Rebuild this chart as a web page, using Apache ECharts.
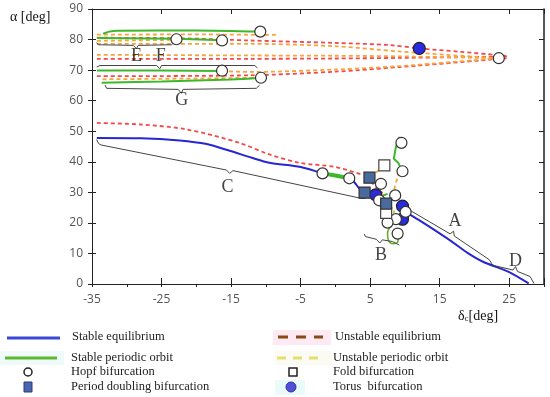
<!DOCTYPE html>
<html>
<head>
<meta charset="utf-8">
<script src="https://cdn.jsdelivr.net/npm/echarts@6/dist/echarts.min.js"></script>
<style>html,body{margin:0;padding:0;background:#fff}#c{width:550px;height:397px}</style>
</head>
<body>
<div id="c"></div>
<script>
// ---------- data ----------
const stableEqUpper = [[-34.3,47.8],[-28,47.7],[-22.4,47.0],[-18.5,45.8],[-15.2,43.6],[-12,41.3],[-9.5,39.7],[-5,38.3],[-1.85,36.2]];
const stableEqMid = [[2.0,34.6],[2.7,33.4],[3.3,31.6],[3.9,30.2],[4.2,29.9],[5.8,29.2]];
const stableEqLower = [[10.1,23.6],[13,19.5],[16.8,13.8],[19,10.2],[21.3,7.2],[25,3.9],[27.8,0.2]];

const unstableEqLower = [[-34.3,52.7],[-28,52.2],[-21.4,50.6],[-13.8,46.2],[-9.5,42.4],[-5,39.6],[0,38.3],[3.9,35.7]];
const unstableEqCluster = [[4.4,35.2],[5.5,32.5],[6.8,29.7]];
const unstableEqTop1 = [[-34.3,80.6],[-22,80.4],[-12.3,79.7],[0,78.9],[7.75,78.2],[12.06,77.1],[18,76.0],[24.8,74.6]];
const unstableEqTop2 = [[-34.3,73.7],[-12.3,73.7],[0,73.8],[9.2,74.0],[24.8,74.4]];
const unstableEqTop3 = [[-34.3,68.0],[-12.3,68.3],[0,69.5],[9.2,71.0],[24.8,73.9]];

const stablePoA = [[-33.4,81.9],[-32.5,82.6],[-31.4,82.9],[-20,83.0],[-10.8,82.6]];
const stablePoB = [[-34.3,80.5],[-22.85,80.3],[-16.3,79.8]];
const stablePoC = [[-34.3,69.9],[-25,69.9],[-16.3,69.7]];
const stablePoD = [[-33.6,65.9],[-25,66.3],[-15,66.9],[-10.7,67.5]];
const stablePoE = [[-1.85,36.2],[0,35.5],[2.0,34.6]];
const stablePoF = [[9.5,46.2],[9.2,48.1],[8.7,44.8],[8.4,41.0],[9.0,39.8],[9.65,36.9]];
const stablePoG = [[6.55,28.7],[7.5,29.5]];
const stablePoH = [[8.0,19.2],[7.5,16.5],[7.6,14.5],[8.3,13.2],[9.0,14.0],[8.95,16.5]];

const unstablePoTop0 = [[-34.3,81.6],[-20,81.7],[-8.5,81.5]];
const unstablePoTop1 = [[-34.3,79.6],[-22.85,79.9]];
const unstablePoTop2 = [[-34.3,78.6],[-12.3,78.6],[0,77.8],[9.2,76.1],[16,75.0],[23.5,73.9]];
const unstablePoTop3 = [[-34.3,75.0],[-12.3,74.8],[0,74.7],[9.2,74.5],[23.5,73.9]];
const unstablePoTop4 = [[-16.3,69.7],[-12.3,69.4],[0,70.2],[9.2,71.3],[23.5,73.9]];
const unstablePoTop5 = [[-33.5,67.0],[-22,67.2],[-10.7,67.5]];
const unstablePoCl1 = [[9.3,36.5],[8.9,34.5],[8.5,31.0],[8.6,29.0]];
const unstablePoCl2 = [[7.04,38.8],[6.0,36.8],[4.9,34.8]];
const unstablePoCl3 = [[8.5,24.1],[8.2,21.9]];

const hopfPoints = [[-10.8,82.6],[-22.85,80.1],[-16.3,79.7],[-16.3,69.8],[-10.7,67.5],[23.5,73.9],[-1.85,36.2],[2.0,34.6],[9.5,46.2],[9.65,36.9],[6.55,32.8],[6.3,27.4],[8.6,29.0],[10.1,23.6],[8.7,21.2],[7.5,20.1],[8.95,16.5]];
const foldPoints = [[7.04,38.8],[7.3,23.3]];
const pdPoints = [[4.9,34.8],[4.2,29.9],[7.3,26.3]];
const torusPoints = [[12.06,77.1],[5.8,29.2],[9.65,25.5],[9.65,21.2]];

const braceA = [[10.15,25.2],[10.77,24.05],[16.5,16.4],[17.0,17.3],[17.1,15.7],[22.1,8.0],[22.5,6.7]];
const braceB = [[4.17,16.36],[4.31,15.54],[5.89,14.63],[6.39,13.42],[6.75,14.46],[8.19,13.9],[9.19,12.76]];
const braceC = [[-34.33,47.3],[-34.07,46.0],[-33.7,45.5],[-15.67,37.3],[-15.2,36.2],[-14.73,37.1],[3.69,28.04],[4.31,27.98]];
const braceD = [[22.35,6.7],[22.8,6.05],[25.55,4.58],[25.9,5.7],[26.2,4.1],[28.0,2.45],[28.56,0.16]];
const braceE = [[-34.33,78.96],[-34.1,78.3],[-29.07,78.1],[-28.6,77.0],[-28.36,78.1],[-23.57,78.3],[-23.1,79.2]];
const braceF = [[-34.33,71.0],[-33.85,71.5],[-25.73,71.5],[-25.24,70.45],[-25.0,71.5],[-11.6,71.5],[-11.2,70.7]];
const braceG = [[-33.13,65.1],[-32.9,64.04],[-22.62,63.7],[-22.14,62.4],[-21.9,63.7],[-11.37,64.04],[-10.9,65.1]];

const regionNames = ['A','B','C','D','E','F','G'];
const regionLabelPos = [[17.2,20.6],[6.56,9.5],[-15.5,31.8],[25.9,7.3],[-28.6,74.4],[-25.1,74.4],[-22.1,60.2]];

const legendNames = ['Stable equilibrium','Unstable equilibrium','Stable periodic orbit','Unstable periodic orbit','Hopf bifurcation','Fold bifurcation','Period doubling bifurcation','Torus  bifurcation'];

// ---------- styles ----------
const BLUE = '#2626d2', RED = '#f4484a', GREEN = '#3cb82a', ORANGE = '#f6a43c';
function ln(data, color, width, type, smooth, z) {
  return {type:'line', data:data, symbol:'none', showSymbol:false, silent:true, animation:false,
    smooth: smooth || false, z: z || 2, lineStyle:{color:color, width:width, type:type || 'solid'}};
}
function pts(data, symbol, size, fill, border, z) {
  return {type:'scatter', data:data, symbol:symbol, symbolSize:size, silent:true, animation:false, z:z,
    itemStyle:{color:fill, borderColor:border, borderWidth:1.2, opacity:1}};
}
const dashR = [4,3], dashO = [4,3];

const series = [
  ln(unstableEqTop1, RED, 1.8, dashR, 0.3, 2),
  ln(unstableEqTop2, RED, 1.8, dashR, 0.3, 2),
  ln(unstableEqTop3, RED, 1.8, dashR, 0.3, 2),
  ln(unstablePoTop0, ORANGE, 1.8, dashO, false, 3),
  ln(unstablePoTop1, ORANGE, 1.8, dashO, false, 3),
  ln(unstablePoTop2, ORANGE, 1.8, dashO, 0.3, 3),
  ln(unstablePoTop3, ORANGE, 1.8, dashO, 0.3, 3),
  ln(unstablePoTop4, ORANGE, 1.8, dashO, 0.3, 3),
  ln(unstablePoTop5, ORANGE, 1.8, dashO, false, 3),
  ln(unstableEqLower, RED, 1.8, dashR, 0.3, 2),
  ln(unstableEqCluster, RED, 1.8, dashR, false, 2),
  ln(unstablePoCl1, ORANGE, 1.8, dashO, 0.3, 3),
  ln(unstablePoCl2, ORANGE, 1.8, dashO, false, 3),
  ln(unstablePoCl3, '#c8c84a', 1.8, [3,2], false, 3),
  ln(stableEqUpper, BLUE, 2, 'solid', 0.3, 4),
  ln(stableEqMid, BLUE, 2, 'solid', 0.3, 4),
  ln(stableEqLower, BLUE, 2, 'solid', 0.2, 4),
  ln(stablePoA, GREEN, 2, 'solid', 0.3, 4),
  ln(stablePoB, GREEN, 2, 'solid', false, 4),
  ln(stablePoC, GREEN, 2, 'solid', false, 4),
  ln(stablePoD, GREEN, 2, 'solid', 0.3, 4),
  ln(stablePoE, GREEN, 4, 'solid', false, 4),
  ln(stablePoF, GREEN, 2, 'solid', false, 4),
  ln(stablePoG, GREEN, 2, 'solid', false, 4),
  ln(stablePoH, '#6ab02a', 1.6, 'solid', 0.4, 4),
  ln(braceA, '#444', 1, 'solid', false, 5),
  ln(braceB, '#444', 1, 'solid', false, 5),
  ln(braceC, '#444', 1, 'solid', false, 5),
  ln(braceD, '#444', 1, 'solid', false, 5),
  ln(braceE, '#444', 1, 'solid', false, 5),
  ln(braceF, '#444', 1, 'solid', false, 5),
  ln(braceG, '#444', 1, 'solid', false, 5),
  pts(torusPoints, 'circle', 12, '#2a2ae0', '#222', 6),
  pts(hopfPoints, 'circle', 11, '#ffffff', '#333', 7),
  pts(foldPoints, 'rect', 11, '#ffffff', '#444', 8),
  pts(pdPoints, 'rect', 11, '#4a6a9e', '#333', 9),
  {type:'scatter', silent:true, animation:false, z:10, symbolSize:2, itemStyle:{color:'rgba(0,0,0,0)'},
    data: regionNames.map((n,i)=>({name:n, value:regionLabelPos[i]})),
    label:{show:true, position:'inside', formatter:p=>p.name, fontFamily:'Liberation Serif', fontSize:18, color:'#111'}}
];

const axisLineBlack = {show:true, onZero:false, lineStyle:{color:'#222', width:1}};
const option = {
  animation:false,
  grid:{left:92, right:6, top:9, bottom:113},
  xAxis:[
    {type:'value', min:-35, max:30, interval:5, position:'bottom', axisLine:axisLineBlack,
      axisTick:{show:true, inside:false, length:3, lineStyle:{color:'#222'}},
      splitLine:{show:false},
      axisLabel:{margin:10, color:'#555', fontSize:12, fontFamily:'Open Sans',
        formatter:v=>(((v+35)%10===0)&&v<30)?String(v):''}},
    {type:'value', min:-35, max:30, interval:10, position:'bottom', axisLine:{show:false, onZero:false},
      axisTick:{show:true, inside:true, length:6, lineStyle:{color:'#222'}},
      axisLabel:{show:false}, splitLine:{show:false}},
    {type:'value', min:-35, max:30, interval:10, position:'top', axisLine:axisLineBlack,
      axisTick:{show:true, inside:true, length:5, lineStyle:{color:'#222'}},
      axisLabel:{show:false}, splitLine:{show:false}}
  ],
  yAxis:[
    {type:'value', min:0, max:90, interval:10, position:'left', axisLine:axisLineBlack,
      axisTick:{show:true, inside:false, length:4, lineStyle:{color:'#222'}},
      splitLine:{show:false},
      axisLabel:{margin:9, color:'#555', fontSize:12, fontFamily:'Open Sans'}},
    {type:'value', min:0, max:90, interval:10, position:'left', axisLine:{show:false, onZero:false},
      axisTick:{show:true, inside:true, length:4, lineStyle:{color:'#222'}},
      axisLabel:{show:false}, splitLine:{show:false}},
    {type:'value', min:0, max:90, interval:10, position:'right', axisLine:{show:true, onZero:false, lineStyle:{color:'#222', width:1.5}},
      axisTick:{show:true, inside:true, length:5, lineStyle:{color:'#222'}},
      axisLabel:{show:false}, splitLine:{show:false}}
  ],
  series: series,
  graphic:[
    {type:'text', left:10, top:10, style:{text:'α [deg]', font:'14px "Liberation Serif"', fill:'#111'}},
    {type:'text', left:458, top:309, style:{text:'δ{s|c}[deg]', font:'14px "Liberation Serif"', fill:'#111',
      rich:{s:{fontSize:9, fontFamily:'Liberation Serif', verticalAlign:'bottom', padding:[6,0,0,0]}}}},
    // legend
    {type:'rect', shape:{x:273, y:330, width:58, height:15}, style:{fill:'#fdeaf3'}},
    {type:'rect', shape:{x:0, y:351, width:64, height:14}, style:{fill:'#f1fafb'}},
    {type:'rect', shape:{x:275, y:351, width:57, height:14}, style:{fill:'#fbfbf3'}},
    {type:'rect', shape:{x:275, y:380, width:30, height:15}, style:{fill:'#eafbfc'}},
    {type:'line', shape:{x1:7, y1:338, x2:60, y2:338}, style:{stroke:'#3a48d6', lineWidth:3}},
    {type:'line', shape:{x1:278, y1:337, x2:323, y2:337}, style:{stroke:'#8a4a16', lineWidth:3, lineDash:[10,8]}},
    {type:'line', shape:{x1:5, y1:358, x2:57, y2:358}, style:{stroke:'#5cb82e', lineWidth:3}},
    {type:'line', shape:{x1:277, y1:358, x2:325, y2:358}, style:{stroke:'#e4e070', lineWidth:3, lineDash:[9,7]}},
    {type:'circle', shape:{cx:28, cy:372, r:4}, style:{fill:'#fff', stroke:'#222', lineWidth:1.5}},
    {type:'rect', shape:{x:289, y:368, width:8, height:8}, style:{fill:'#fff', stroke:'#222', lineWidth:1.5}},
    {type:'rect', shape:{x:24, y:382, width:8, height:10}, style:{fill:'#4a66b0', stroke:'#2a3a70', lineWidth:1}},
    {type:'circle', shape:{cx:291, cy:387, r:5}, style:{fill:'#5050d8', stroke:'#3030a0', lineWidth:1}},
    {type:'text', left:72, top:330, style:{text:legendNames[0], font:'12.5px "Liberation Serif"', fill:'#222'}},
    {type:'text', left:335, top:330, style:{text:legendNames[1], font:'12.5px "Liberation Serif"', fill:'#222'}},
    {type:'text', left:71, top:351, style:{text:legendNames[2], font:'12.5px "Liberation Serif"', fill:'#222'}},
    {type:'text', left:333, top:351, style:{text:legendNames[3], font:'12.5px "Liberation Serif"', fill:'#222'}},
    {type:'text', left:71, top:365, style:{text:legendNames[4], font:'12.5px "Liberation Serif"', fill:'#222'}},
    {type:'text', left:333, top:365, style:{text:legendNames[5], font:'12.5px "Liberation Serif"', fill:'#222'}},
    {type:'text', left:71, top:380, style:{text:legendNames[6], font:'12.5px "Liberation Serif"', fill:'#222'}},
    {type:'text', left:333, top:380, style:{text:legendNames[7], font:'12.5px "Liberation Serif"', fill:'#222'}}
  ]
};
const chart = echarts.init(document.getElementById('c'), null, {renderer:'canvas'});
chart.setOption(option);
</script>
</body>
</html>
